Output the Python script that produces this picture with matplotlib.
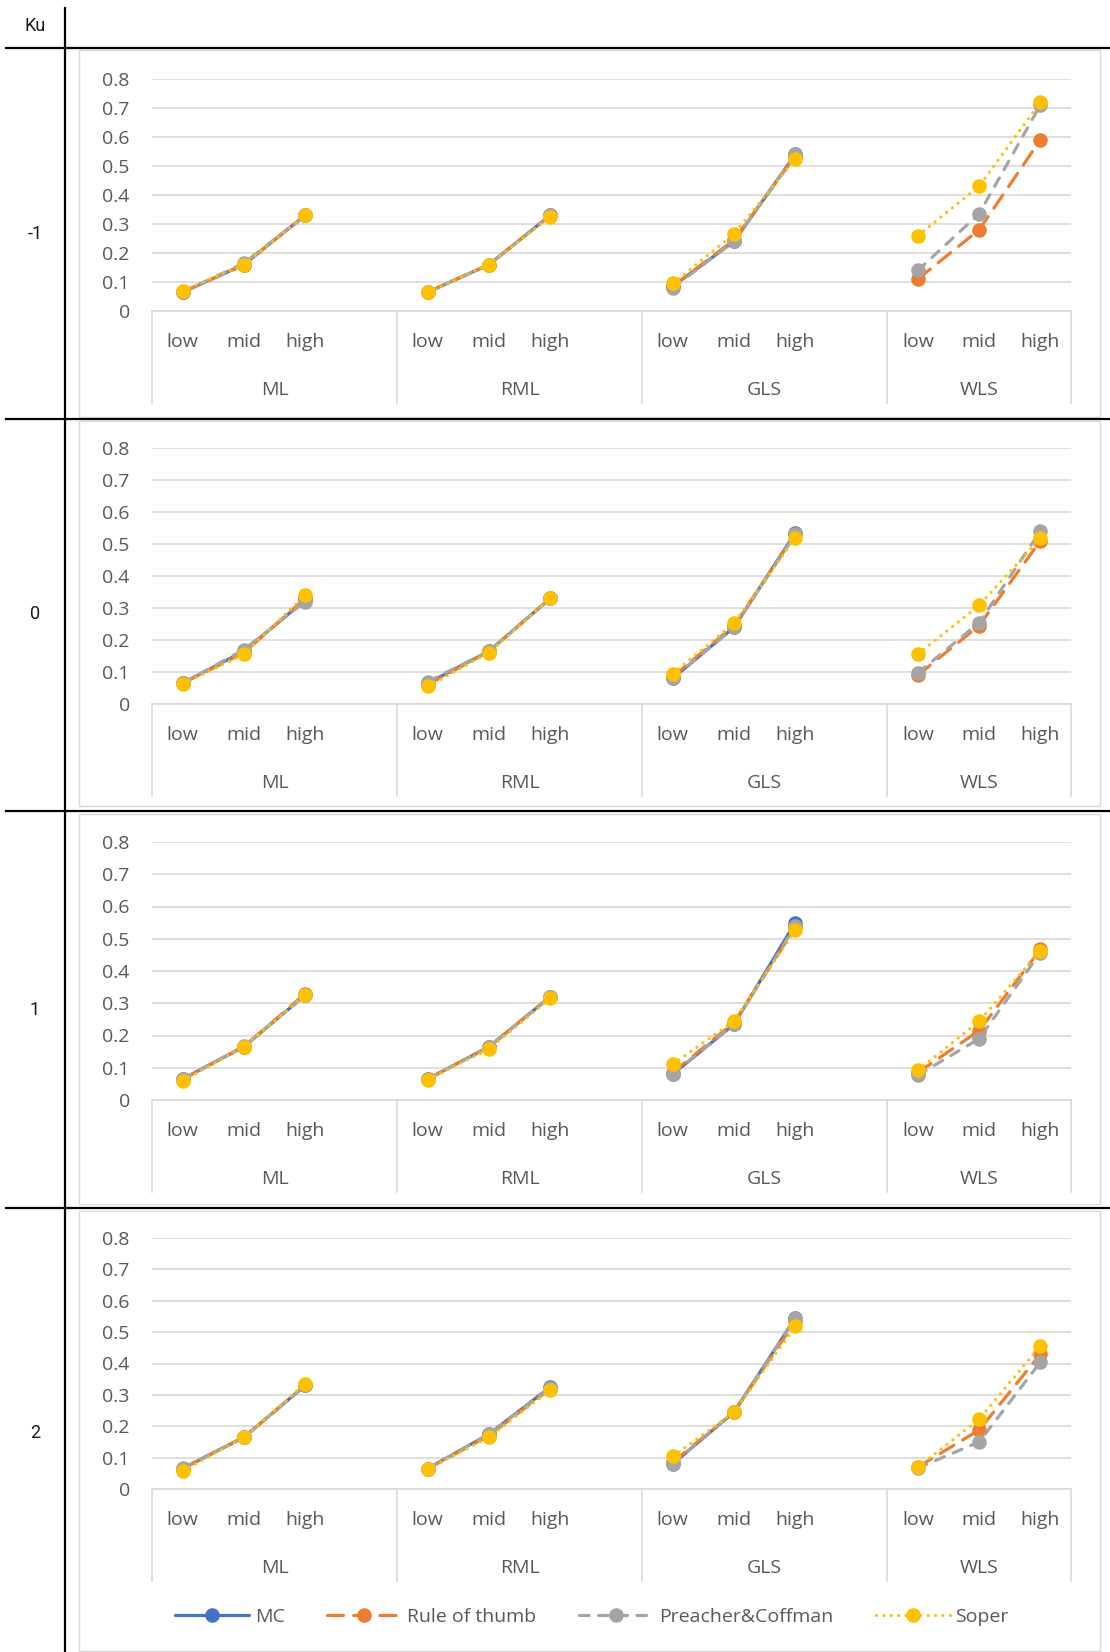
import numpy as np
import matplotlib.pyplot as plt
from matplotlib.lines import Line2D
from matplotlib.patches import Rectangle
from matplotlib.transforms import blended_transform_factory

plt.rcParams['font.family'] = ['Open Sans', 'DejaVu Sans']

# Data: rows are Ku = -1, 0, 1, 2; columns are ML, RML, GLS, WLS x (low, mid, high)
ku_levels = ['-1', '0', '1', '2']
estimators = ['ML', 'RML', 'GLS', 'WLS']
levels = ['low', 'mid', 'high']
nan = np.nan

mc = [
    [0.065, 0.16, 0.33, 0.065, 0.16, 0.33, 0.085, 0.24, 0.54, nan, nan, nan],
    [0.065, 0.165, 0.325, 0.065, 0.165, 0.33, 0.08, 0.24, 0.535, nan, nan, nan],
    [0.065, 0.165, 0.325, 0.065, 0.165, 0.32, 0.08, 0.235, 0.55, nan, nan, nan],
    [0.065, 0.165, 0.33, 0.065, 0.175, 0.325, 0.08, 0.245, 0.545, nan, nan, nan],
]
rule_of_thumb = [
    [0.065, 0.16, 0.33, 0.065, 0.16, 0.33, 0.085, 0.245, 0.535, 0.11, 0.28, 0.59],
    [0.065, 0.16, 0.33, 0.06, 0.165, 0.33, 0.085, 0.245, 0.53, 0.09, 0.245, 0.51],
    [0.065, 0.165, 0.33, 0.065, 0.165, 0.32, 0.085, 0.24, 0.535, 0.085, 0.215, 0.467],
    [0.065, 0.165, 0.33, 0.065, 0.17, 0.32, 0.085, 0.245, 0.535, 0.07, 0.188, 0.43],
]
preacher = [
    [0.065, 0.165, 0.33, 0.065, 0.16, 0.33, 0.08, 0.24, 0.54, 0.14, 0.335, 0.71],
    [0.065, 0.17, 0.32, 0.07, 0.165, 0.33, 0.08, 0.24, 0.53, 0.097, 0.254, 0.54],
    [0.065, 0.167, 0.325, 0.065, 0.165, 0.32, 0.08, 0.235, 0.54, 0.077, 0.19, 0.457],
    [0.067, 0.165, 0.33, 0.065, 0.175, 0.323, 0.081, 0.245, 0.545, 0.067, 0.15, 0.404],
]
soper = [
    [0.07, 0.16, 0.33, 0.065, 0.16, 0.325, 0.095, 0.265, 0.525, 0.26, 0.43, 0.72],
    [0.063, 0.155, 0.34, 0.055, 0.16, 0.33, 0.095, 0.252, 0.52, 0.156, 0.308, 0.518],
    [0.059, 0.165, 0.325, 0.063, 0.158, 0.315, 0.111, 0.245, 0.526, 0.092, 0.244, 0.463],
    [0.057, 0.165, 0.335, 0.063, 0.165, 0.315, 0.104, 0.245, 0.518, 0.07, 0.222, 0.457],
]

series_names = ['MC', 'Rule of thumb', 'Preacher&Coffman', 'Soper']
series_data = [mc, rule_of_thumb, preacher, soper]
series_colors = ['#4472C4', '#ED7D31', '#A5A5A5', '#FFC000']
series_dashes = [None, (5, 3.2), (3, 3), (0.01, 2.3)]

W, H = 1110, 1652
TXT = '#595959'
GRID = '#D9D9D9'

fig = plt.figure(figsize=(W / 100, H / 100), dpi=100)


def fr(x0, y0, x1, y1):
    return [x0 / W, 1 - y1 / H, (x1 - x0) / W, (y1 - y0) / H]


# x positions: each group takes 4 slots (3 levels + blank), last group only 3
xpos = []
for g in range(len(estimators)):
    xpos += [g * 4 + i for i in range(3)]
xpos = np.array(xpos)
seps = [-0.5, 3.5, 7.5, 11.5, 14.5]

panel_y = [(79, 311), (448, 704), (842, 1100), (1238, 1489)]
box_y = [(50, 417), (421, 806), (814, 1204), (1211, 1651)]
PX0, PX1 = 152, 1071

handles = []
for p, (ya, yb) in enumerate(panel_y):
    # light chart border
    b0, b1 = box_y[p]
    fig.add_artist(Rectangle((79 / W, 1 - b1 / H), (1100 - 79) / W, (b1 - b0) / H,
                             transform=fig.transFigure, fill=False,
                             edgecolor=GRID, lw=1))
    ax = fig.add_axes(fr(PX0, ya, PX1, yb))
    ax.set_xlim(-0.5, 14.5)
    ax.set_ylim(0, 0.8)
    for s in ['top', 'right', 'left']:
        ax.spines[s].set_visible(False)
    ax.spines['bottom'].set_color(GRID)
    ax.spines['bottom'].set_linewidth(1.2)
    yt = np.arange(0, 0.81, 0.1)
    ax.set_yticks(yt, ['0'] + ['%.1f' % v for v in yt[1:]])
    ax.yaxis.grid(True, color=GRID, lw=1.2)
    ax.set_axisbelow(True)
    ax.tick_params(axis='y', length=0, pad=16, labelsize=14, labelcolor=TXT)
    ax.set_xticks(xpos, levels * len(estimators))
    ax.tick_params(axis='x', length=0, pad=16, labelsize=14, labelcolor=TXT)

    hpx = yb - ya
    trans = blended_transform_factory(ax.transData, ax.transAxes)
    for xs in seps:
        ax.plot([xs, xs], [0, -92 / hpx], transform=trans, color=GRID,
                lw=1.2, clip_on=False)
    for g, name in enumerate(estimators):
        xc = (seps[g] + seps[g + 1]) / 2
        ax.annotate(name, (xc, 0), xycoords=trans, xytext=(0, -79 * 0.72),
                    textcoords='offset points', ha='center', va='center',
                    fontsize=14, color=TXT)

    for name, data, col, dsh in zip(series_names, series_data, series_colors, series_dashes):
        vals = np.array(data[p], dtype=float)
        # break the line between groups
        xs_full = []
        ys_full = []
        for g in range(len(estimators)):
            xs_full += list(xpos[g * 3:g * 3 + 3]) + [g * 4 + 3]
            ys_full += list(vals[g * 3:g * 3 + 3]) + [nan]
        line, = ax.plot(xs_full, ys_full, color=col, lw=2.3, marker='o',
                        markersize=10.5, markeredgewidth=0, label=name,
                        solid_capstyle='round')
        if dsh is not None:
            line.set_dashes(dsh)
            line.set_dash_capstyle('round')
        if p == 0:
            handles.append(line)

# table lines and row labels
fig.add_artist(Line2D([65 / W, 65 / W], [1 - 8 / H, 0], color='black', lw=1.6))
for y in [48, 419, 811, 1208]:
    fig.add_artist(Line2D([6 / W, 1], [1 - y / H, 1 - y / H], color='black', lw=1.6))

fig.text(35 / W, 1 - 26 / H, 'Ku', ha='center', va='center', fontsize=13,
         color='#1a1a1a', family=['Roboto', 'DejaVu Sans'])
for lab, y in zip(ku_levels, [234, 614, 1010, 1433]):
    fig.text(35 / W, 1 - y / H, lab, ha='center', va='center', fontsize=13,
             color='#1a1a1a', family=['Roboto', 'DejaVu Sans'])

fig.legend(handles, series_names, loc='center', bbox_to_anchor=(592 / W, 1 - 1617 / H),
           ncol=4, frameon=False, handlelength=3.8, columnspacing=2.2,
           handletextpad=0.3, fontsize=14, labelcolor=TXT, numpoints=1)

fig.savefig('out.png', dpi=100)
